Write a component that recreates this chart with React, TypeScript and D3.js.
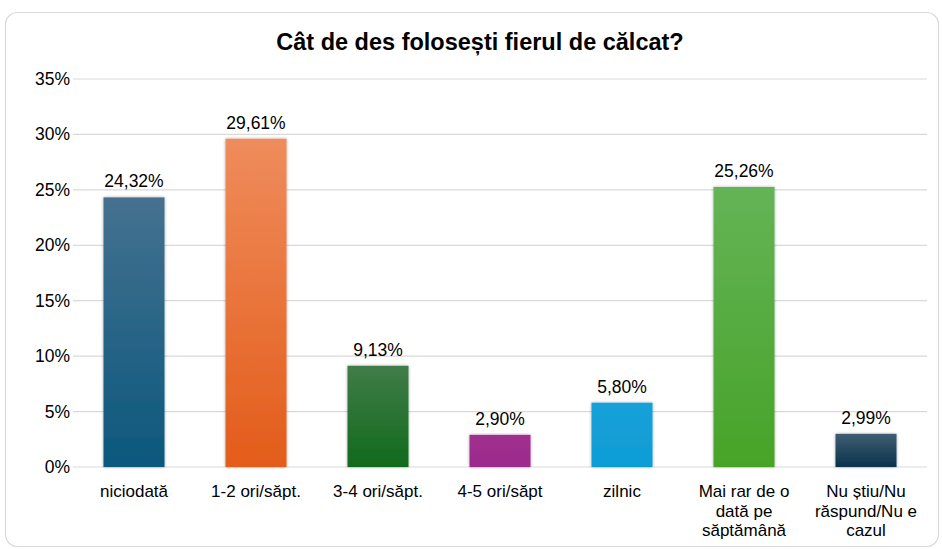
import React from "react";
import * as d3 from "d3";

const categories: string[][] = [
  ["niciodată"],
  ["1-2 ori/săpt."],
  ["3-4 ori/săpt."],
  ["4-5 ori/săpt"],
  ["zilnic"],
  ["Mai rar de o", "dată pe", "săptămână"],
  ["Nu știu/Nu", "răspund/Nu e", "cazul"],
];
const values: number[] = [24.32, 29.61, 9.13, 2.9, 5.8, 25.26, 2.99];
const valueLabels: string[] = ["24,32%", "29,61%", "9,13%", "2,90%", "5,80%", "25,26%", "2,99%"];
const yTicks: number[] = [0, 5, 10, 15, 20, 25, 30, 35];
const title = "Cât de des folosești fierul de călcat?";
const colorsTop: string[] = ["#45718f", "#ef8c5c", "#417c48", "#a0308f", "#14a0d8", "#64b456", "#3f5d72"];
const colorsBottom: string[] = ["#0b587d", "#e35c1a", "#116a1c", "#9c2a8c", "#109dd6", "#47a328", "#09334b"];

export default function App() {
  const W = 942, H = 549;
  const left = 73, right = 927, top = 79, bottom = 467;
  const x = d3.scaleBand<number>().domain(values.map((_, i) => i)).range([left, right]).paddingInner(0.5).paddingOuter(0.25);
  const y = d3.scaleLinear().domain([0, 35]).range([bottom, top]);
  const font = "'Liberation Sans', Arial, sans-serif";
  return (
    <svg width={W} height={H} style={{ position: "absolute", left: 0, top: 0, display: "block" }} fontFamily={font}>
      <defs>
        {values.map((_, i) => (
          <linearGradient key={i} id={`g${i}`} x1="0" y1="0" x2="0" y2="1">
            <stop offset="0" stopColor={colorsTop[i]} />
            <stop offset="1" stopColor={colorsBottom[i]} />
          </linearGradient>
        ))}
        <filter id="sh" x="-20%" y="-10%" width="140%" height="120%">
          <feGaussianBlur in="SourceAlpha" stdDeviation="1.5" />
          <feOffset dx="0" dy="0" result="b" />
          <feComponentTransfer><feFuncA type="linear" slope="0.35" /></feComponentTransfer>
          <feMerge><feMergeNode /><feMergeNode in="SourceGraphic" /></feMerge>
        </filter>
      </defs>
      <rect x={0} y={0} width={W} height={H} fill="#ffffff" />
      <rect x={5.5} y={12.5} width={933} height={534} rx={12} fill="#ffffff" stroke="#d9d9d9" strokeWidth={1.2} />
      <text x={480} y={50} textAnchor="middle" fontSize={23.5} fontWeight="bold" fill="#000">{title}</text>
      {yTicks.map((t) => (
        <g key={t}>
          <line x1={left} x2={right} y1={y(t)} y2={y(t)} stroke="#d9d9d9" strokeWidth={1.2} />
          <text x={70} y={y(t) + 6} textAnchor="end" fontSize={17.5} fill="#000">{t}%</text>
        </g>
      ))}
      {values.map((v, i) => {
        const bx = x(i)!;
        const bw = x.bandwidth();
        return (
          <g key={i}>
            <rect x={bx} y={y(v)} width={bw} height={y(0) - y(v)} fill={`url(#g${i})`} filter="url(#sh)" />
            <text x={bx + bw / 2} y={y(v) - 10} textAnchor="middle" fontSize={17.5} fill="#000">{valueLabels[i]}</text>
            {categories[i].map((line, j) => (
              <text key={j} x={bx + bw / 2} y={497 + j * 19.5} textAnchor="middle" fontSize={17} fill="#000">{line}</text>
            ))}
          </g>
        );
      })}
    </svg>
  );
}
